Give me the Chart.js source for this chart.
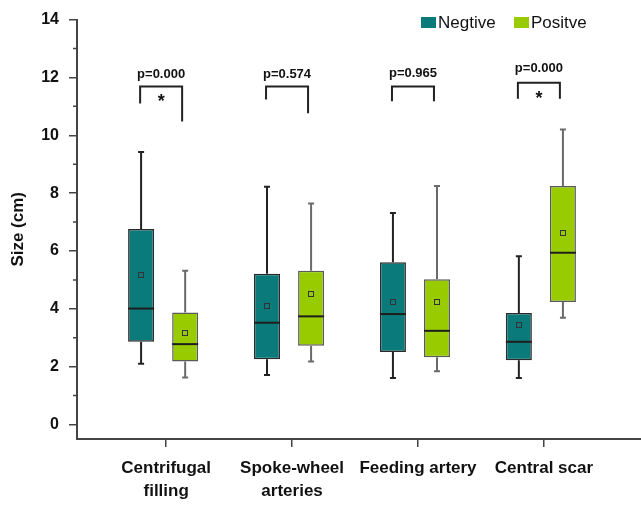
<!DOCTYPE html>
<html>
<head>
<meta charset="utf-8">
<script src="https://cdn.jsdelivr.net/npm/chart.js@4.4.1/dist/chart.umd.min.js"></script>
<style>
  body { margin: 0; background: #fff; }
  #wrap { width: 641px; height: 505px; }
</style>
</head>
<body>
<div id="wrap"><canvas id="sizeBox" width="641" height="505"></canvas></div>
<script>
// categories and series
const categories = [['Centrifugal', 'filling'], ['Spoke-wheel', 'arteries'], ['Feeding artery'], ['Central scar']];
const seriesNames = ['Negtive', 'Positve'];

// box statistics (cm)
const negMin = [2.10, 1.71, 1.61, 1.61];
const negQ1 = [2.86, 2.26, 2.51, 2.22];
const negMedian = [4.01, 3.52, 3.82, 2.86];
const negQ3 = [6.76, 5.21, 5.61, 3.86];
const negMax = [9.42, 8.22, 7.31, 5.82];
const negMean = [5.16, 4.11, 4.22, 3.45];

const posMin = [1.63, 2.18, 1.84, 3.69];
const posQ1 = [2.18, 2.72, 2.33, 4.24];
const posMedian = [2.78, 3.74, 3.24, 5.94];
const posQ3 = [3.87, 5.32, 5.02, 8.25];
const posMax = [5.32, 7.64, 8.25, 10.2];
const posMean = [3.16, 4.53, 4.22, 6.63];

// significance annotations
const pValues = ['p=0.000', 'p=0.574', 'p=0.965', 'p=0.000'];
const significant = [true, false, false, true];

const yTicks = [0, 2, 4, 6, 8, 10, 12, 14];
const yMinorTicks = [1, 3, 5, 7, 9, 11, 13];

const NEG_COLOR = '#0b7a7a';
const POS_COLOR = '#99cc00';
const FONT = "'Liberation Sans', Arial, sans-serif";
const TICK_SHIFT = 0.024; // category ticks sit a little right of the box pairs

// bracket layout (in axis units): top, left leg end, right leg end, label
const bracketTop = [11.69, 11.69, 11.69, 11.82];
const bracketLeft = [11.1, 11.24, 11.18, 11.26];
const bracketRight = [10.48, 10.76, 11.18, 11.26];
const bracketLabel = [12.12, 12.12, 12.15, 12.3];

const stats = [
  { min: negMin, max: negMax, median: negMedian, mean: negMean, whisker: '#222', width: 2 },
  { min: posMin, max: posMax, median: posMedian, mean: posMean, whisker: '#6a6a6a', width: 2 }
];

const boxExtras = {
  id: 'boxExtras',
  afterDatasetsDraw(chart) {
    const ctx = chart.ctx;
    const y = chart.scales.y;
    const x = chart.scales.x;
    ctx.save();

    // whiskers, medians, means
    stats.forEach((s, d) => {
      chart.getDatasetMeta(d).data.forEach((bar, i) => {
        const cx = bar.x;
        const half = bar.width / 2;
        const yTop = y.getPixelForValue(s.max[i]);
        const yBot = y.getPixelForValue(s.min[i]);
        const boxTop = Math.min(bar.y, bar.base);
        const boxBot = Math.max(bar.y, bar.base);
        ctx.strokeStyle = s.whisker;
        ctx.lineWidth = s.width;
        ctx.beginPath();
        ctx.moveTo(cx, yTop); ctx.lineTo(cx, boxTop);
        ctx.moveTo(cx, boxBot); ctx.lineTo(cx, yBot);
        ctx.moveTo(cx - 3, yTop); ctx.lineTo(cx + 3, yTop);
        ctx.moveTo(cx - 3, yBot); ctx.lineTo(cx + 3, yBot);
        ctx.stroke();

        const ym = y.getPixelForValue(s.median[i]);
        ctx.strokeStyle = '#1e1e1e';
        ctx.lineWidth = 2;
        ctx.beginPath();
        ctx.moveTo(cx - half, ym); ctx.lineTo(cx + half, ym);
        ctx.stroke();

        const ya = y.getPixelForValue(s.mean[i]);
        ctx.strokeStyle = '#333';
        ctx.lineWidth = 1;
        ctx.strokeRect(Math.round(cx) - 2.5, Math.round(ya) - 2.5, 5, 5);
      });
    });

    // minor y ticks
    ctx.strokeStyle = '#444';
    ctx.lineWidth = 1.5;
    ctx.beginPath();
    yMinorTicks.forEach(v => {
      const py = y.getPixelForValue(v);
      ctx.moveTo(chart.chartArea.left - 4, py);
      ctx.lineTo(chart.chartArea.left, py);
    });
    ctx.stroke();

    // p-value brackets
    categories.forEach((c, i) => {
      const cx = x.getPixelForValue(i + 1);
      const l = cx - 23, r = cx + 19;
      const t = y.getPixelForValue(bracketTop[i]);
      ctx.strokeStyle = '#222';
      ctx.lineWidth = 2;
      ctx.beginPath();
      ctx.moveTo(l, y.getPixelForValue(bracketLeft[i]));
      ctx.lineTo(l, t);
      ctx.lineTo(r, t);
      ctx.lineTo(r, y.getPixelForValue(bracketRight[i]));
      ctx.stroke();

      ctx.fillStyle = '#111';
      ctx.font = 'bold 13px ' + FONT;
      ctx.textAlign = 'center';
      ctx.textBaseline = 'middle';
      ctx.fillText(pValues[i], (l + r) / 2, y.getPixelForValue(bracketLabel[i]));
      if (significant[i]) {
        ctx.font = 'bold 18px ' + FONT;
        ctx.fillText('*', (l + r) / 2, t + 16);
      }
    });

    // legend
    const legendX = [421, 514];
    ctx.font = '17px ' + FONT;
    ctx.textAlign = 'left';
    ctx.textBaseline = 'middle';
    seriesNames.forEach((name, d) => {
      ctx.fillStyle = d === 0 ? NEG_COLOR : POS_COLOR;
      ctx.fillRect(legendX[d], 17, 15, 11);
      ctx.fillStyle = '#111';
      ctx.fillText(name, legendX[d] + 17, 23);
    });

    ctx.restore();
  }
};

new Chart(document.getElementById('sizeBox'), {
  type: 'bar',
  data: {
    datasets: [
      {
        label: seriesNames[0],
        data: negQ1.map((q, i) => ({ x: i + 1, y: [q, negQ3[i]] })),
        backgroundColor: NEG_COLOR,
        borderColor: '#2a2a2a',
        borderWidth: 1.5,
        borderSkipped: false
      },
      {
        label: seriesNames[1],
        data: posQ1.map((q, i) => ({ x: i + 1, y: [q, posQ3[i]] })),
        backgroundColor: POS_COLOR,
        borderColor: '#5a5a5a',
        borderWidth: 1.5,
        borderSkipped: false
      }
    ]
  },
  options: {
    responsive: false,
    animation: false,
    categoryPercentage: 0.7,
    barPercentage: 0.59,
    layout: { padding: { top: 19, left: 0, right: 0, bottom: 0 } },
    plugins: {
      legend: { display: false },
      tooltip: { enabled: false }
    },
    scales: {
      x: {
        type: 'linear',
        offset: false,
        min: 0.316,
        max: 4.795,
        afterBuildTicks: s => { s.ticks = categories.map((c, i) => ({ value: i + 1 + TICK_SHIFT })); },
        afterFit: s => { s.height = 66; },
        grid: { display: true, offset: false, drawOnChartArea: false, drawTicks: true, tickLength: 8, color: '#444', lineWidth: 1.5 },
        border: { display: true, color: '#444', width: 2 },
        ticks: {
          padding: 9,
          color: '#111',
          autoSkip: false,
          maxRotation: 0,
          font: { family: FONT, size: 17, weight: 'bold', lineHeight: 1.4 },
          callback: v => categories[Math.round(v) - 1] || ''
        }
      },
      y: {
        min: -0.5,
        max: 14,
        afterBuildTicks: s => { s.ticks = yTicks.map(v => ({ value: v })); },
        afterFit: s => { s.width = 77; },
        grid: { display: true, drawOnChartArea: false, drawTicks: true, tickLength: 8, color: '#444', lineWidth: 1.5 },
        border: { display: true, color: '#444', width: 2 },
        ticks: {
          padding: 10,
          color: '#111',
          font: { family: FONT, size: 16, weight: 'bold' }
        },
        title: {
          display: true,
          text: 'Size (cm)',
          color: '#111',
          font: { family: FONT, size: 17, weight: 'bold' },
          padding: { top: 8, bottom: 4 }
        }
      }
    }
  },
  plugins: [boxExtras]
});
</script>
</body>
</html>
